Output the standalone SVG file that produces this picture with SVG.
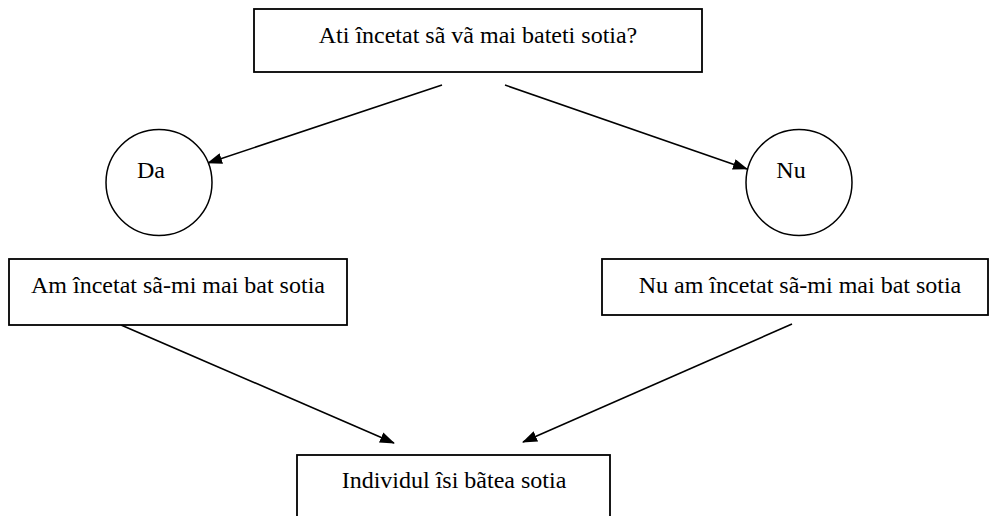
<svg xmlns="http://www.w3.org/2000/svg" width="989" height="516" viewBox="0 0 989 516">
<style>
text{font-family:"Liberation Serif","Times New Roman",Times,serif;font-size:24px;fill:#000;text-anchor:middle}
.box{fill:#fff;stroke:#000;stroke-width:1.8}
.circ{fill:#fff;stroke:#000;stroke-width:1.5}
.edge{stroke:#000;stroke-width:1.6;fill:none}
</style>
<defs>
<marker id="arr" markerWidth="15" markerHeight="11" refX="14" refY="5.5" orient="auto" markerUnits="userSpaceOnUse">
<path d="M0,0 L15,5.5 L0,11 Z" fill="#000"/>
</marker>
</defs>
<rect width="989" height="516" fill="#fff"/>
<g id="connectors">
<line class="edge" x1="442" y1="85" x2="208" y2="163" marker-end="url(#arr)"/>
<line class="edge" x1="505" y1="85" x2="747" y2="169" marker-end="url(#arr)"/>
<line class="edge" x1="121" y1="325" x2="394" y2="443" marker-end="url(#arr)"/>
<line class="edge" x1="792" y1="324" x2="523" y2="442" marker-end="url(#arr)"/>
</g>
<g id="q">
<rect class="box" x="254" y="9" width="448" height="63"/>
<text x="478" y="43">Ati încetat sã vã mai bateti sotia?</text>
</g>
<g id="da">
<circle class="circ" cx="159" cy="182.5" r="53"/>
<text x="151" y="178">Da</text>
</g>
<g id="nu">
<circle class="circ" cx="799" cy="182.5" r="53"/>
<text x="791" y="178">Nu</text>
</g>
<g id="am">
<rect class="box" x="9" y="259" width="338" height="66"/>
<text x="178" y="293">Am încetat sã-mi mai bat sotia</text>
</g>
<g id="nuam">
<rect class="box" x="602" y="259" width="386" height="56"/>
<text x="800" y="293">Nu am încetat sã-mi mai bat sotia</text>
</g>
<g id="ind">
<rect class="box" x="297" y="455" width="313" height="80"/>
<text x="454" y="488">Individul îsi bãtea sotia</text>
</g>
</svg>
